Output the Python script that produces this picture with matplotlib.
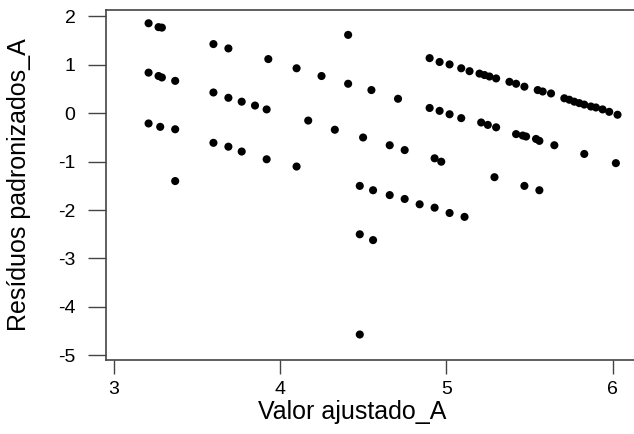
import numpy as np
import matplotlib
matplotlib.use("Agg")
import matplotlib.pyplot as plt

plt.rcParams['font.family'] = ['Liberation Sans', 'DejaVu Sans']
plt.rcParams['axes.unicode_minus'] = False

# === Data (fitted value, standardized residual) ===
fitted = [
    3.21, 3.27, 3.29,
    3.21, 3.27, 3.29, 3.37,
    3.21, 3.28, 3.37,
    3.37,
    3.60, 3.69,
    3.60, 3.69, 3.77, 3.85, 3.92,
    3.60, 3.69, 3.77, 3.92,
    3.93, 4.10, 4.25, 4.41, 4.55, 4.71,
    4.41,
    4.10,
    4.17, 4.33, 4.50, 4.66, 4.75,
    4.48, 4.56, 4.66, 4.75, 4.84, 4.93, 5.02, 5.11,
    4.48, 4.56,
    4.48,
    4.90, 4.96, 5.02, 5.09, 5.14, 5.20, 5.23, 5.26, 5.30, 5.38, 5.42, 5.47,
    5.55, 5.58, 5.63, 5.71, 5.74, 5.77, 5.80, 5.83, 5.87, 5.90, 5.94, 5.98, 6.03,
    4.90, 4.96, 5.02, 5.09, 5.21, 5.25, 5.30, 5.42, 5.46, 5.48, 5.54, 5.56,
    5.65, 5.83, 6.02,
    4.93, 4.97,
    5.29, 5.47, 5.56,
]
residuals = [
    1.86, 1.78, 1.77,
    0.84, 0.77, 0.74, 0.67,
    -0.21, -0.28, -0.33,
    -1.40,
    1.43, 1.34,
    0.43, 0.32, 0.24, 0.16, 0.08,
    -0.61, -0.69, -0.79, -0.95,
    1.12, 0.93, 0.77, 0.61, 0.48, 0.30,
    1.62,
    -1.10,
    -0.15, -0.34, -0.50, -0.66, -0.76,
    -1.50, -1.59, -1.69, -1.77, -1.88, -1.95, -2.06, -2.14,
    -2.50, -2.62,
    -4.57,
    1.14, 1.06, 1.01, 0.93, 0.87, 0.82, 0.79, 0.76, 0.72, 0.65, 0.61, 0.55,
    0.48, 0.45, 0.41, 0.31, 0.28, 0.24, 0.21, 0.18, 0.14, 0.12, 0.08, 0.03, -0.03,
    0.11, 0.05, -0.02, -0.10, -0.19, -0.24, -0.29, -0.43, -0.46, -0.48, -0.53, -0.57,
    -0.66, -0.84, -1.03,
    -0.93, -1.00,
    -1.32, -1.50, -1.59,
]
xticks = [3, 4, 5, 6]
yticks = [-5, -4, -3, -2, -1, 0, 1, 2]

fig = plt.figure(figsize=(6.34, 4.34), dpi=100)
ax = fig.add_axes([106 / 634, 74 / 434, 1 - 106 / 634, 350 / 434])

ax.scatter(fitted, residuals, s=34, color='black', edgecolors='none', zorder=3)

ax.set_xlim(2.954, 6.129)
ax.set_ylim(-5.097, 2.134)
ax.set_xticks(xticks)
ax.set_yticks(yticks)
ax.tick_params(axis='x', length=10, width=1, color='#444444', pad=5, labelsize=14, direction='out')
ax.tick_params(axis='y', length=13, width=1, color='#444444', pad=9, labelsize=14, direction='out')

for side in ['left', 'bottom', 'top']:
    ax.spines[side].set_color('#444444')
    ax.spines[side].set_linewidth(1.2)
ax.spines['right'].set_visible(False)

ax.set_xlabel('Valor ajustado_A', fontsize=18)
ax.set_ylabel('Resíduos padronizados_A', fontsize=18)
ax.xaxis.set_label_coords(0.466, -0.115)
ax.yaxis.set_label_coords(-0.142, 0.5)

fig.savefig('out.png', dpi=100)
